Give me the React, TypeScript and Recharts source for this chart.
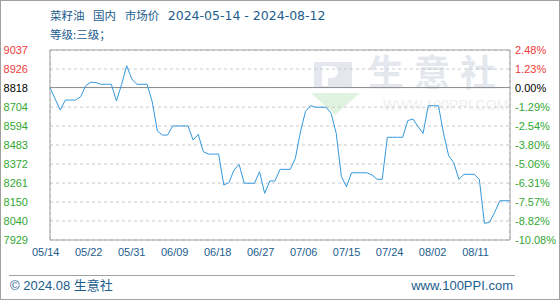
import React from "react";
import { LineChart, Line, XAxis, YAxis, CartesianGrid, ReferenceLine } from "recharts";

// daily price, 2024-05-14 .. 2024-08-12
const prices = [
  8818, 8752, 8687, 8745, 8745, 8745, 8765, 8829, 8849, 8847,
  8837, 8837, 8837, 8740, 8835, 8945, 8868, 8837, 8837, 8837,
  8735, 8565, 8541, 8541, 8594, 8594, 8594, 8594, 8512, 8545,
  8444, 8430, 8430, 8430, 8250, 8263, 8337, 8370, 8260, 8260,
  8260, 8327, 8201, 8273, 8273, 8341, 8341, 8341, 8405, 8560,
  8680, 8712, 8703, 8703, 8703, 8668, 8551, 8300, 8240, 8321,
  8321, 8321, 8321, 8308, 8283, 8283, 8528, 8528, 8528, 8528,
  8625, 8635, 8590, 8551, 8712, 8712, 8712, 8551, 8420, 8380,
  8283, 8312, 8312, 8312, 8283, 8026, 8032, 8090, 8158, 8158,
  8158,
];
const gridDays = [0, 9, 18, 27, 36, 45, 54, 63, 72, 81, 90];
const dateLabels = ["05/14", "05/22", "05/31", "06/09", "06/18", "06/27", "07/06", "07/15", "07/24", "08/02", "08/11"];
const labelSlots = [0, 1, 2, 3, 4, 5, 6, 7, 8, 9, 10];
const priceTicks = [7929, 8040, 8150, 8261, 8372, 8483, 8594, 8704, 8818, 8926, 9037];
const pctLabels = ["-10.08%", "-8.82%", "-7.57%", "-6.31%", "-5.06%", "-3.80%", "-2.54%", "-1.29%", "0.00%", "1.23%", "2.48%"];
const basePrice = 8818;

const data = prices.map((price, day) => ({ day, price }));

const UP = "#f03a3a";
const DOWN = "#33a833";
const BLUE = "#1c5d8e";
const AXIS = "#a0a0a0";
const tickFont = "Arial, 'Liberation Sans', sans-serif";
const cjk = "'Noto Sans CJK SC', sans-serif";

function tickColor(v: number) {
  if (v > basePrice) return UP;
  if (v === basePrice) return "#000";
  return DOWN;
}

function LeftTick(props: any) {
  const { x, y, payload } = props;
  return (
    <text x={x} y={y} dy={4} textAnchor="end" fill={tickColor(payload.value)} fontSize={11} fontFamily={tickFont}>
      {payload.value}
    </text>
  );
}

function RightTick(props: any) {
  const { x, y, payload } = props;
  return (
    <text x={x} y={y} dy={4} textAnchor="start" fill={tickColor(payload.value)} fontSize={11} fontFamily={tickFont}>
      {pctLabels[priceTicks.indexOf(payload.value)]}
    </text>
  );
}

function DateTick(props: any) {
  const { x, y, payload } = props;
  return (
    <text x={x} y={y} dy={9} textAnchor="middle" fill={BLUE} fontSize={11} fontFamily={tickFont}>
      {dateLabels[payload.value]}
    </text>
  );
}

function Watermark() {
  return (
    <svg width={560} height={300} style={{ position: "absolute", left: 0, top: 0 }}>
      <path d="M314 62 h38 v26 h-38 z" fill="#e4e8ee" />
      <path d="M322 66 h10 a6 6 0 0 1 0 12 h-4 v8 h-6 z" fill="#fff" />
      <path d="M311 93 L360 93 L335 115 Z" fill="#e0f2e0" />
      <text x={368} y={86} fontSize={36} fontWeight="bold" fill="#e4e8ee" letterSpacing={10} fontFamily={cjk}>
        生意社
      </text>
      <text x={383} y={110} fontSize={14} fill="#efefef" fontFamily="Arial, sans-serif">
        WWW.100PPI.COM
      </text>
    </svg>
  );
}

export default function App() {
  return (
    <div style={{ position: "absolute", left: 0, top: 0, width: 560, height: 300, background: "#fff", overflow: "hidden" }}>
      <Watermark />
      <div style={{ position: "absolute", left: 50, top: 5, color: BLUE, lineHeight: "19px", whiteSpace: "nowrap" }}>
        <div>
          <span style={{ fontFamily: cjk, fontSize: 11.5, wordSpacing: 6 }}>菜籽油 国内 市场价 </span>
          <span style={{ fontFamily: "'DejaVu Sans', sans-serif", fontSize: 12.5 }}>2024-05-14 - 2024-08-12</span>
        </div>
        <div style={{ fontFamily: cjk, fontSize: 11.5 }}>等级:三级；</div>
      </div>
      <div style={{ position: "absolute", left: 0, top: 0 }}>
        <LineChart width={560} height={300} data={data} margin={{ top: 50, right: 0, bottom: 40, left: 0 }}>
          <CartesianGrid yAxisId="left" stroke="#c8c8c8" strokeDasharray="3 3" />
          <XAxis type="number" dataKey="day" domain={[0, 90]} ticks={gridDays} height={0} tick={false} axisLine={false} tickLine={false} />
          <XAxis
            xAxisId="lbl"
            type="number"
            dataKey="day"
            domain={[0.1, 10.8]}
            allowDataOverflow
            ticks={labelSlots}
            interval={0}
            height={20}
            tickSize={0}
            tickMargin={7}
            tick={<DateTick />}
            axisLine={{ stroke: AXIS }}
            tickLine={false}
          />
          <YAxis
            yAxisId="left"
            domain={[7929, 9037]}
            allowDataOverflow
            ticks={priceTicks}
            interval={0}
            width={50}
            tickSize={0}
            tickMargin={22}
            tick={<LeftTick />}
            axisLine={{ stroke: AXIS }}
            tickLine={false}
          />
          <YAxis
            yAxisId="right"
            orientation="right"
            domain={[7929, 9037]}
            allowDataOverflow
            ticks={priceTicks}
            interval={0}
            width={50}
            tickSize={0}
            tickMargin={5}
            tick={<RightTick />}
            axisLine={{ stroke: AXIS }}
            tickLine={false}
          />
          <ReferenceLine yAxisId="left" y={9037} stroke={AXIS} />
          <ReferenceLine yAxisId="left" y={basePrice} stroke="#8c8c8c" />
          <Line yAxisId="left" type="linear" dataKey="price" stroke="#3399dd" strokeWidth={1} dot={false} isAnimationActive={false} />
        </LineChart>
      </div>
      <div style={{ position: "absolute", left: 9, top: 275, width: 506, borderTop: "1px solid #a0a0a0" }} />
      <div style={{ position: "absolute", left: 10, top: 277, fontSize: 13, color: BLUE, fontFamily: "Arial, 'Noto Sans CJK SC', sans-serif", lineHeight: "18px" }}>
        © 2024.08 生意社
      </div>
      <div style={{ position: "absolute", right: 47, top: 277, fontSize: 13, color: BLUE, fontFamily: "Arial, sans-serif", lineHeight: "18px" }}>
        www.100PPI.com
      </div>
      <div style={{ position: "absolute", left: 0, top: 0, width: 560, height: 300, boxSizing: "border-box", border: "1px solid #a0a0a0", pointerEvents: "none" }} />
    </div>
  );
}
